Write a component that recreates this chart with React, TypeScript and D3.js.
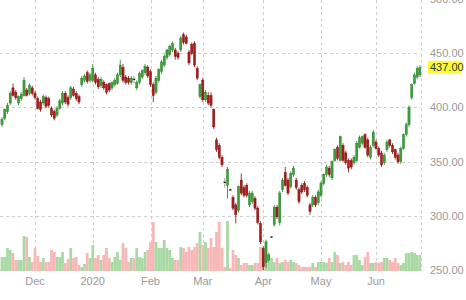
import React from 'react';
import * as d3 from 'd3';

const opens = [384,390,396,404,418,414,404,408,411,416,
413,418,413,408,405,404,409,408,399,396,
393,399,404,413,409,409,417,413,410,421,
425,432,425,425,430,426,420,423,421,422,
418,421,422,430,437,428,427,423,426,418,
423,428,432,437,433,421,414,425,433,439,
446,449,453,453,450,453,467,465,451,458,
459,436,410,425,407,411,411,398,370,365,
354,331,328,324,317,310,305,333,326,328,
310,313,316,307,293,270,257,259,280.5,292,
308,294,324,340,333,327,338,333,324,328,
330,326,310,310,317,312,319,330,338,344,
335,351,363,351,365,358,351,351,349,351,
363,367,375,370,354,365,368,362,358,349,
361,370,365,361,356,350,362,375,384,409,
422,428,430];
const highs = [391,399,404,415,422,416,411,414,428,418,
422,420,415,410,407,412,411,410,401,398,
401,408,415,415,411,420,419,415,412,429,
431,434,432,440,432,428,428,425,422,423,
424,427,432,444,440,430,429,429,429,425,
433,435,440,439,435,423,429,436,444,449,
454,458,461,455,452,466,469,467,453,460,
461,438,422,427,416,414,414,399,372,367,
356,335,345,325,319,312,328,339,328,330,
323,323,318,309,295,272,278,266,281,310,
310,323,335,345,335,341,346,335,326,330,
332,328,312,319,319,324,332,339,347,346,
351,362,365,374,367,360,353,353,356,369,
374,374,376,372,365,379,370,364,360,358,
370,371,367,362,358,364,376,386,402,422,
432,438,439];
const lows = [382,388,394,402,410,407,402,406,410,410,
411,411,407,398,396,402,399,400,391,388,
391,398,402,403,401,407,410,406,403,419,
423,422,423,423,421,417,418,416,412,414,
416,419,421,428,423,421,421,421,422,416,
421,426,430,427,419,405,412,423,431,437,
444,447,451,444,444,451,458,458,439,448,
437,425,408,405,405,402,400,380,359,352,
345,326,316,323,305,293,303,319,317,317,
308,311,305,292,274,250,252,257,279.5,290,
297,291,322,327,319,325,336,324,311,320,
322,317,301,308,308,310,317,328,336,336,
333,350,351,350,350,347,340,343,347,350,
362,365,362,354,352,363,361,354,345,347,
359,363,357,352,348,348,361,373,382,407,
421,426,428];
const closes = [389,398,402,413,411,409,410,412,425,411,
420,413,409,399,398,410,401,402,393,390,
399,406,413,405,403,418,411,408,405,427,
429,424,430,436,423,419,426,418,414,416,
423,425,430,439,425,423,423,427,425,423,
431,434,438,429,421,411,427,435,442,447,
453,456,459,447,446,464,460,459,441,450,
439,427,421,407,414,404,402,382,361,354,
347,330,343,323.5,307,301,327,321,319,319,
321,321,307,294,276,253,276,264,280.5,308,
299,321,333,328,321,339,344,326,313,322,
324,319,304,317,310,322,330,338,345,338,
350,361,353,373,351,349,344,345,354,367,
372,373,363,356,363,377,362,356,347,356,
368,365,359,354,350,362,375,384,400,421,
430,436,437];
const volumes = [14,14,23,21,18,11,11,11,35,34,
14,9,23,15,9,13,9,9,21,19,
14,14,19,8,12,23,13,14,6,4,
7,18,13,26,13,16,11,16,23,13,
9,14,19,11,28,23,9,13,13,23,
14,13,19,21,29,49,29,23,23,31,
23,21,13,11,11,24,23,19,24,21,
24,28,39,26,29,23,33,24,39,49,
23,4,50,3,21,16,13,6,8,8,
6,6,8,8,24,19,16,9,13,9,
13,8,9,11,9,11,9,8,6,4,
4,4,4,8,4,9,9,9,8,13,
9,19,16,8,9,6,9,6,16,16,
11,6,14,19,8,8,9,8,9,13,
13,11,9,13,8,6,8,18,18,19,
18,16,16];

const monthLabels = ['Dec', '2020', 'Feb', 'Mar', 'Apr', 'May', 'Jun'];
const monthStartIndex = [12, 33, 54, 73, 95, 116, 136];
const priceTicks = [250, 300, 350, 400, 450, 500];
const lastPrice = 437;

const W = 466;
const H = 300;
const PLOT_RIGHT = 421;
const PLOT_BOTTOM = 271;

export default function App() {
  const n = closes.length;
  const x = d3.scaleLinear().domain([0, n - 1]).range([2, 420]);
  const y = d3.scaleLinear().domain([250, 500]).range([270, -1]);
  const vy = d3.scaleLinear().domain([0, 60]).range([PLOT_BOTTOM, PLOT_BOTTOM - 60]);
  const idx = d3.range(n);
  const step = x(1) - x(0);
  const crisp = (v: number) => Math.round(v) + 0.5;

  const greenBody = '#3c9f3c';
  const greenEdge = '#237a23';
  const redBody = '#a81c1c';
  const redEdge = '#7d0d0d';

  return (
    <svg width={W} height={H} style={{ position: 'absolute', left: 0, top: 0, background: '#fff' }}
      fontFamily="'Liberation Sans', Arial, sans-serif">
      <defs>
        <clipPath id="plot">
          <rect x={0} y={0} width={PLOT_RIGHT} height={PLOT_BOTTOM + 1} />
        </clipPath>
      </defs>
      {/* grid */}
      <g stroke="#cfcfcf" strokeDasharray="3,3" strokeWidth={1}>
        {priceTicks.map((t) => (
          <line key={'h' + t} x1={0} x2={PLOT_RIGHT} y1={crisp(y(t))} y2={crisp(y(t))} />
        ))}
        {monthStartIndex.map((m) => (
          <line key={'v' + m} x1={crisp(x(m))} x2={crisp(x(m))} y1={0} y2={PLOT_BOTTOM} />
        ))}
        <line x1={PLOT_RIGHT + 0.5} x2={PLOT_RIGHT + 0.5} y1={0} y2={PLOT_BOTTOM} />
      </g>
      <g clipPath="url(#plot)">
        {/* volume */}
        {idx.map((i) => {
          const up = closes[i] >= opens[i];
          return (
            <rect key={'vol' + i} x={x(i) - step / 2} width={step} y={vy(volumes[i])}
              height={vy(0) - vy(volumes[i])} fill={up ? '#a9d9a3' : '#f7b7b7'} />
          );
        })}
        {/* candles */}
        {idx.map((i) => {
          const up = closes[i] >= opens[i];
          const top = y(Math.max(opens[i], closes[i]));
          const bot = y(Math.min(opens[i], closes[i]));
          const cx = x(i);
          const edge = up ? greenEdge : redEdge;
          const doji = bot - top < 1.2;
          return (
            <g key={'c' + i}>
              <line x1={cx} x2={cx} y1={y(highs[i])} y2={y(lows[i])} stroke={doji ? '#888' : edge} strokeWidth={0.8} />
              {doji ? (
                <rect x={cx - 1.3} width={2.6} y={top - 0.5} height={1.2} fill="#222" />
              ) : (
                <rect x={cx - 1.1} width={2.2} y={top} height={bot - top}
                  fill={up ? greenBody : redBody} stroke={edge} strokeWidth={0.4} />
              )}
            </g>
          );
        })}
      </g>
      {/* price labels */}
      <g fontSize={11} fill="#9a9a9a">
        {priceTicks.map((t) => (
          <text key={'pl' + t} x={430} y={y(t) + 4}>{t.toFixed(2)}</text>
        ))}
      </g>
      <rect x={428} y={y(lastPrice) - 6.5} width={34} height={13} fill="#fbfb3a" />
      <text x={430} y={y(lastPrice) + 4} fontSize={11} fill="#333">{lastPrice.toFixed(2)}</text>
      {/* month labels */}
      <g fontSize={11} fill="#9a9a9a" textAnchor="middle">
        {monthStartIndex.map((m, k) => (
          <text key={'ml' + m} x={x(m)} y={285}>{monthLabels[k]}</text>
        ))}
      </g>
    </svg>
  );
}
